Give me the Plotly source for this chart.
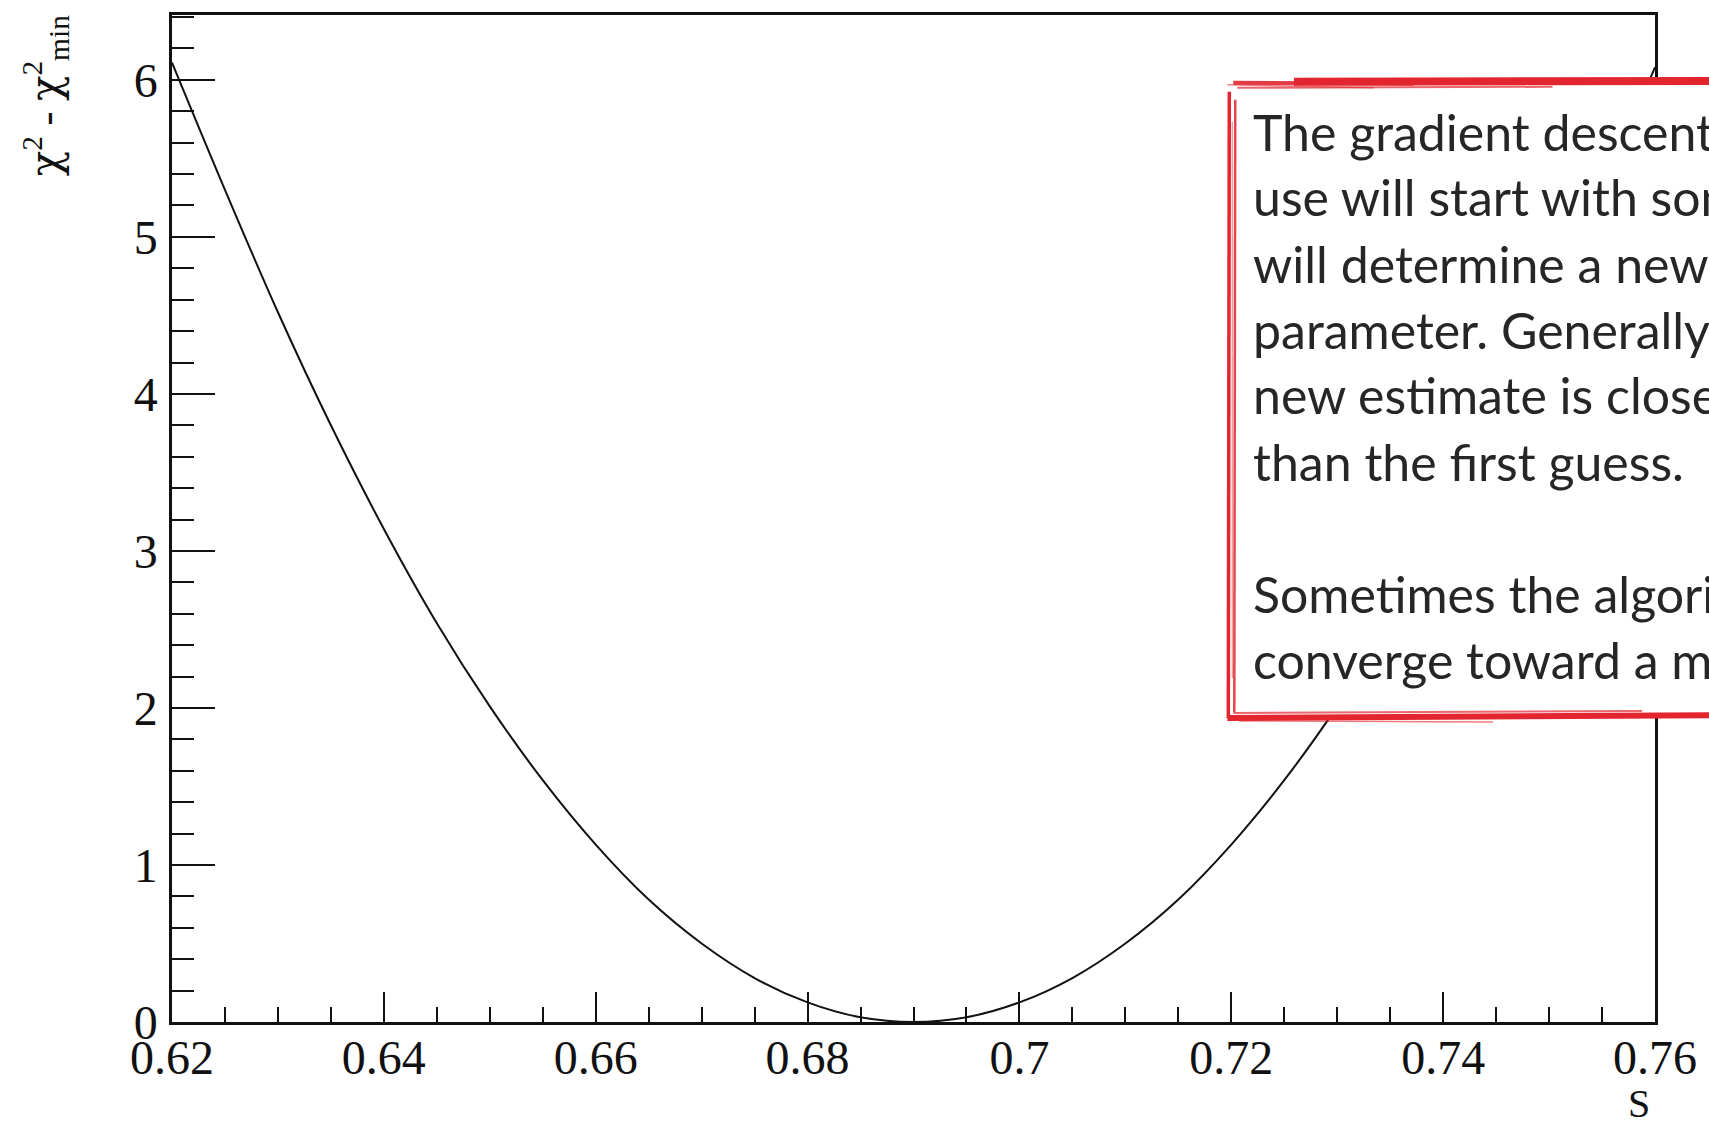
import plotly.graph_objects as go

# chi-square scan: parameter S and chi2 - chi2_min
s_values = [0.620, 0.625, 0.630, 0.635, 0.640, 0.645, 0.650, 0.655, 0.660, 0.665,
            0.670, 0.675, 0.680, 0.685, 0.690, 0.695, 0.700, 0.705, 0.710, 0.715,
            0.720, 0.725, 0.730, 0.735, 0.740, 0.745, 0.750, 0.755, 0.760]
dchi2_values = [6.11, 5.30, 4.52, 3.80, 3.14, 2.54, 2.01, 1.54, 1.13, 0.78,
                0.50, 0.28, 0.125, 0.03, 0.0, 0.03, 0.125, 0.28, 0.50, 0.78,
                1.13, 1.54, 2.01, 2.54, 3.14, 3.80, 4.52, 5.30, 6.08]

x_tick_vals = [0.62, 0.64, 0.66, 0.68, 0.70, 0.72, 0.74, 0.76]
x_tick_text = ["0.62", "0.64", "0.66", "0.68", "0.7", "0.72", "0.74", "0.76"]
y_tick_vals = [0, 1, 2, 3, 4, 5, 6]
y_tick_text = ["0", "1", "2", "3", "4", "5", "6"]

note_lines = [
    "The gradient descent algorithm",
    "use will start with some guess",
    "will determine a new estimate",
    "parameter. Generally, the",
    "new estimate is closer to the",
    "than the first guess.",
    "",
    "Sometimes the algorithm may",
    "converge toward a minimum",
]

# page geometry (pixels)
W, H = 1709, 1121
L, R, T, B = 172, 1663, 12, 1022
PW, PH = R - L, B - T


def px(xp):
    return (xp - L) / PW


def py(yp):
    return (B - yp) / PH


AXIS = "#111111"
SERIF = "Liberation Serif, Times New Roman, serif"
RED = "#e2252f"

fig = go.Figure()
fig.add_trace(go.Scatter(
    x=s_values, y=dchi2_values, mode="lines",
    line=dict(color="#111111", width=2, shape="spline", smoothing=1.0),
    showlegend=False, hoverinfo="skip",
))

fig.update_layout(
    width=W, height=H,
    margin=dict(l=L, r=W - R, t=T, b=H - B),
    paper_bgcolor="white", plot_bgcolor="white",
    font=dict(family=SERIF, color=AXIS),
)

fig.update_xaxes(
    range=[0.62, 0.76], tickvals=x_tick_vals, ticktext=x_tick_text,
    ticks="inside", ticklen=30, tickwidth=2.2, tickcolor=AXIS,
    minor=dict(dtick=0.005, tick0=0.62, ticks="inside", ticklen=15, tickwidth=2.2, tickcolor=AXIS),
    showline=True, linewidth=2.5, linecolor=AXIS, mirror=True,
    showgrid=False, zeroline=False,
    tickfont=dict(family=SERIF, size=48, color=AXIS),
    ticklabelstandoff=-8,
)
fig.update_yaxes(
    range=[0, 6.413], tickvals=y_tick_vals, ticktext=y_tick_text,
    ticks="inside", ticklen=43, tickwidth=2.2, tickcolor=AXIS,
    minor=dict(dtick=0.2, tick0=0, ticks="inside", ticklen=22, tickwidth=2.2, tickcolor=AXIS),
    showline=True, linewidth=2.5, linecolor=AXIS, mirror=True,
    showgrid=False, zeroline=False,
    tickfont=dict(family=SERIF, size=48, color=AXIS),
    ticklabelstandoff=2,
)

# axis titles, placed ROOT-style at the ends of the axes
CHI = '<span style="font-family:DejaVu Serif">χ</span>'
fig.add_annotation(
    text=f"{CHI}<sup>2</sup> - {CHI}<sup>2</sup><sub>min</sub>",
    xref="paper", yref="paper", x=px(44), y=py(10),
    xanchor="center", yanchor="top", textangle=-90, showarrow=False,
    font=dict(family=SERIF, size=42, color=AXIS),
)
fig.add_annotation(
    text="S", xref="paper", yref="paper", x=px(1660), y=py(1104),
    xanchor="right", yanchor="middle", showarrow=False,
    font=dict(family=SERIF, size=40, color=AXIS),
)

# note box with a hand-drawn red border
bx0, bx1, by0, by1 = 1235, 1780, 79, 717
fig.add_shape(type="rect", xref="paper", yref="paper", layer="above",
              x0=px(bx0), x1=px(bx1), y0=py(by1), y1=py(by0),
              fillcolor="white", line=dict(width=0))
strokes = [
    # (x0, y0, x1, y1, width, opacity)
    (1300, by0, bx1, by0 - 1, 8, 1.0),
    (bx0 + 4, by0 + 1, 1420, by0 + 2, 4, 0.9),
    (bx0 + 8, by0 + 6, 1560, by0 + 5, 2, 0.7),
    (bx0 - 2, by0 + 3, 1380, by0 + 6, 1.5, 0.6),
    (bx0, by0 + 10, bx0 - 1, by1, 3.5, 1.0),
    (bx0 + 6, by0 + 18, bx0 + 5, by1 - 6, 2.5, 0.85),
    (bx0 + 3, by0 + 40, bx0 + 3, by1 - 40, 1.2, 0.5),
    (bx0 - 2, by1, bx1, by1 - 3, 6, 1.0),
    (bx0 + 4, by1 - 5, 1650, by1 - 7, 2, 0.7),
    (bx0 + 10, by1 + 3, 1500, by1 + 4, 1.5, 0.6),
]
for sx0, sy0, sx1, sy1, sw, so in strokes:
    fig.add_shape(type="line", xref="paper", yref="paper", layer="above",
                  x0=px(sx0), y0=py(sy0), x1=px(sx1), y1=py(sy1),
                  opacity=so, line=dict(color=RED, width=sw))

baselines = [149, 214, 281, 347, 413, 480, 546, 612, 678]
FS = 50
for text, base in zip(note_lines, baselines):
    if not text:
        continue
    fig.add_annotation(
        text=text, xref="paper", yref="paper",
        x=px(1257), y=py(base - 0.49 * FS + 5),
        xanchor="left", yanchor="middle", showarrow=False,
        font=dict(family="Lato, sans-serif", size=FS, color="#262626"),
    )

fig.write_html("out.html")
